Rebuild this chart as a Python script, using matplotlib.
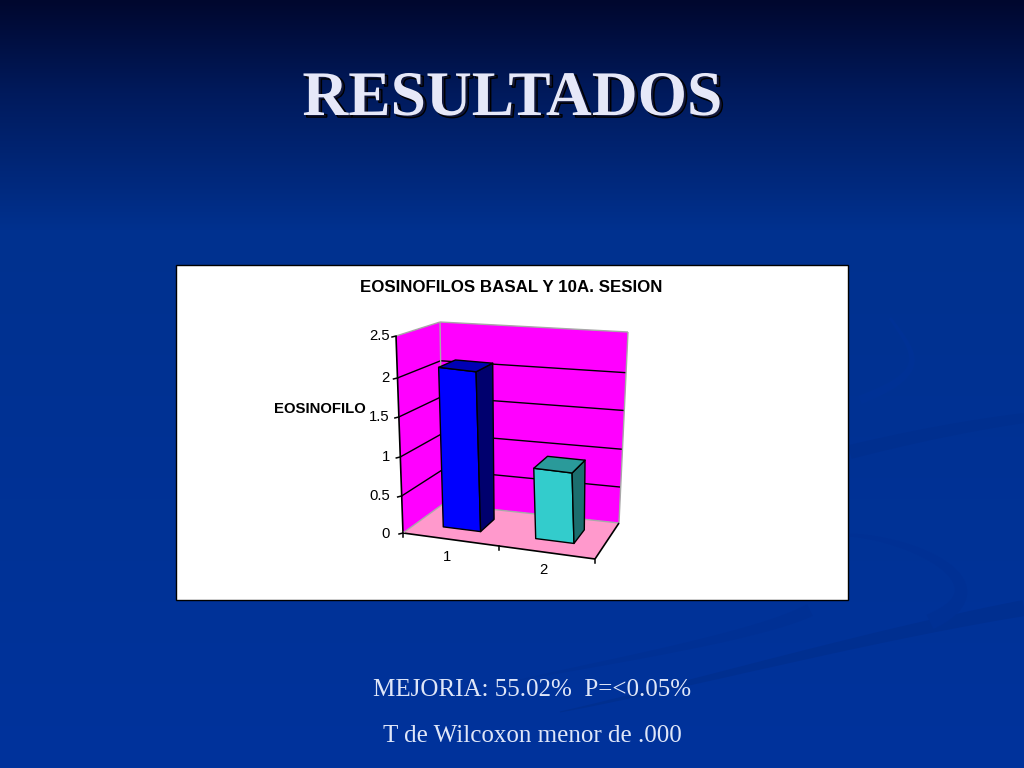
import numpy as np
import matplotlib
matplotlib.use("Agg")
import matplotlib.pyplot as plt
import matplotlib.patheffects as pe
from matplotlib.patches import Polygon, Rectangle
from matplotlib.colors import LinearSegmentedColormap

categories = ["1", "2"]
values = [2.1, 0.945]
value_ticks = [0, 0.5, 1, 1.5, 2, 2.5]
value_labels = ["0", "0.5", "1", "1.5", "2", "2.5"]
chart_title = "EOSINOFILOS BASAL Y 10A. SESION"
axis_title = "EOSINOFILO"
slide_title = "RESULTADOS"
note_lines = ["MEJORIA: 55.02%  P=<0.05%", "T de Wilcoxon menor de .000"]

# corners of the fake 3d box in pixels, index is (x, depth, value)
corner = {
    (0, 0, 0): (403, 533), (1, 0, 0): (595, 559),
    (0, 1, 0): (443, 504), (1, 1, 0): (619, 523),
    (0, 0, 1): (396, 336), (1, 0, 1): (583, 364),
    (0, 1, 1): (440, 322), (1, 1, 1): (628, 332),
}
# height of the ticks along the box edge, the gaps grow a bit towards the top
tick_frac = [0, 0.188, 0.386, 0.589, 0.787, 1]
vmax = 2.5


def proj(u, d, v):
    # trilinear blend of the box corners
    w = np.interp(v, value_ticks, tick_frac)
    px = py = 0.0
    for (a, b, c), (cx, cy) in corner.items():
        k = (u if a else 1 - u) * (d if b else 1 - d) * (w if c else 1 - w)
        px += k * cx
        py += k * cy
    return px, py


fig = plt.figure(figsize=(10.24, 7.68), dpi=100)
ax = fig.add_axes([0, 0, 1, 1])
ax.set_xlim(0, 1024)
ax.set_ylim(768, 0)
ax.axis("off")

# background
grad = LinearSegmentedColormap.from_list(
    "bg", [(0, "#00072e"), (0.12, "#001a5c"), (0.3, "#00318f"), (1, "#00339c")], N=1024)
ax.imshow(np.linspace(0, 1, 768).reshape(-1, 1), cmap=grad, extent=[0, 1024, 768, 0],
          aspect="auto", zorder=0)


def swoosh(xs, ys, w0, w1, color):
    # tapered band through a few points, w0 and w1 are the widths at the two ends
    t = np.linspace(0, 1, 80)
    s = np.linspace(0, 1, len(xs))
    deg = len(xs) - 1
    x = np.polyval(np.polyfit(s, xs, deg), t)
    y = np.polyval(np.polyfit(s, ys, deg), t)
    dx, dy = np.gradient(x), np.gradient(y)
    n = np.hypot(dx, dy)
    w = (w0 + (w1 - w0) * t) / 2
    top = np.column_stack([x - dy / n * w, y + dx / n * w])
    bot = np.column_stack([x + dy / n * w, y - dx / n * w])
    ax.add_patch(Polygon(np.vstack([top, bot[::-1]]), closed=True, fc=color, ec="none", zorder=1))


swoosh([1024, 860, 700, 560], [608, 642, 680, 712], 16, 1, "#002f90")
swoosh([1024, 940, 850], [418, 432, 452], 10, 14, "#002f8f")
swoosh([850, 920, 960, 930], [535, 552, 585, 622], 3, 16, "#003094")
swoosh([890, 910, 905, 860], [318, 350, 375, 400], 3, 9, "#003195")
swoosh([810, 730, 620, 520], [610, 636, 660, 680], 13, 1, "#003094")

# slide text, the title shadow is a path effect
title = ax.text(512.5, 100, slide_title, color="#e6e8f8", fontsize=45.7, fontweight="bold",
                family="Liberation Serif", ha="center", va="center", zorder=3)
title.set_path_effects([pe.PathPatchEffect(offset=(2, -1.5), facecolor="#10163a"), pe.Normal()])
ax.text(532, 690, note_lines[0], color="#dfe6f8", fontsize=18,
        family="Liberation Serif", ha="center", va="center", zorder=3)
ax.text(532, 736, note_lines[1], color="#dfe6f8", fontsize=18,
        family="Liberation Serif", ha="center", va="center", zorder=3)

# chart panel
ax.add_patch(Rectangle((176, 265), 672, 335, fc="white", ec="black", lw=1, zorder=4))
ax.text(511.5, 288, chart_title, fontsize=12.2, fontweight="bold", family="Liberation Sans",
        ha="center", va="center", color="black", zorder=5)
ax.text(320, 409, axis_title, fontsize=10.7, fontweight="bold", family="Liberation Sans",
        ha="center", va="center", color="black", zorder=5)


def face(pts, fc, ec="black", lw=1.0, z=6):
    ax.add_patch(Polygon([proj(*p) for p in pts], closed=True, fc=fc, ec=ec, lw=lw,
                         joinstyle="round", zorder=z))


def seg(a, b, color="black", lw=1.0, z=7):
    pa, pb = proj(*a), proj(*b)
    ax.plot([pa[0], pb[0]], [pa[1], pb[1]], color=color, lw=lw, zorder=z,
            solid_capstyle="butt")


# walls and floor
face([(0, 0, 0), (0, 1, 0), (0, 1, vmax), (0, 0, vmax)], "#ff00ff", "none", 0)
face([(0, 1, 0), (1, 1, 0), (1, 1, vmax), (0, 1, vmax)], "#ff00ff", "none", 0)
face([(0, 0, 0), (1, 0, 0), (1, 1, 0), (0, 1, 0)], "#ff99cc", "none", 0)

for v in value_ticks[1:-1]:
    seg((0, 0, v), (0, 1, v))
    seg((0, 1, v), (1, 1, v))
seg((0, 0, vmax), (0, 1, vmax), "#a8a8a8")
seg((0, 1, vmax), (1, 1, vmax), "#a8a8a8")
seg((0, 1, 0), (0, 1, vmax), "#a8a8a8")
seg((1, 1, 0), (1, 1, vmax), "#a8a8a8")
seg((0, 1, 0), (1, 1, 0), "#a8a8a8")

# axes, ticks
seg((0, 0, 0), (0, 0, vmax), lw=1.2)
seg((0, 0, 0), (1, 0, 0), lw=1.2)
seg((1, 0, 0), (1, 1, 0), lw=1.2)
seg((0, 0, 0), (0, 1, 0), "#a8a8a8")
for v, lab in zip(value_ticks, value_labels):
    x, y = proj(0, 0, v)
    ax.plot([x - 4, x], [y + 1, y], color="black", lw=1.1, zorder=7)
    ax.text(390, y + 0.5, lab, fontsize=10.7, family="Liberation Sans", ha="right",
            va="center", color="black", zorder=7)
for u in [0, 0.5, 1]:
    x, y = proj(u, 0, 0)
    ax.plot([x, x], [y, y + 4], color="black", lw=1.1, zorder=7)

# bars
bar_u = [(0.145, 0.345), (0.64, 0.845)]
bar_d = (0.33, 0.72)
bar_colors = [("#0000ff", "#00006e", "#0000b4"), ("#33cccc", "#1c6e6e", "#2a9a9a")]
label_pos = [(447, 557), (543, 570)]
for i, val in enumerate(values):
    u0, u1 = bar_u[i]
    d0, d1 = bar_d
    fc, side, top = bar_colors[i]
    face([(u0, d0, 0), (u1, d0, 0), (u1, d0, val), (u0, d0, val)], fc, z=9)
    face([(u1, d0, 0), (u1, d1, 0), (u1, d1, val), (u1, d0, val)], side, z=9)
    face([(u0, d0, val), (u1, d0, val), (u1, d1, val), (u0, d1, val)], top, z=9)
    ax.text(label_pos[i][0], label_pos[i][1], categories[i], fontsize=10.7,
            family="Liberation Sans", ha="center", va="center", color="black", zorder=7)

fig.savefig("out.png", dpi=100)
